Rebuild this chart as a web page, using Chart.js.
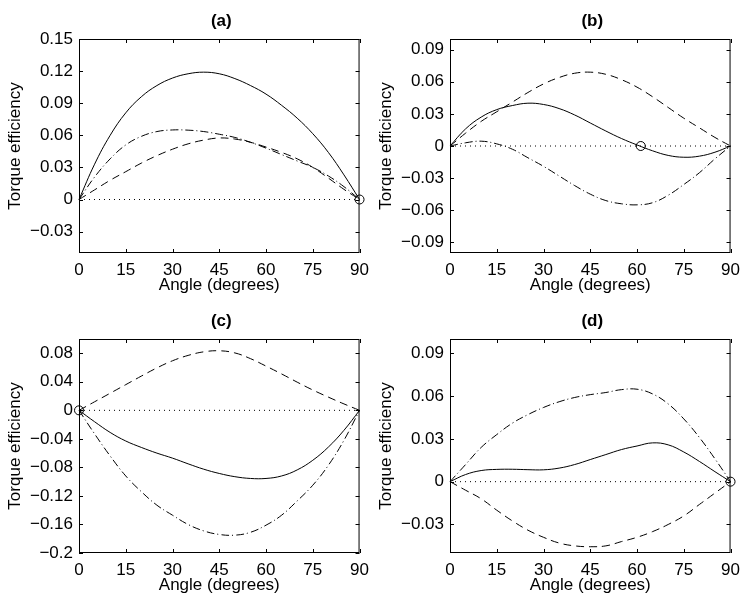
<!DOCTYPE html>
<html>
<head>
<meta charset="utf-8">
<script src="https://cdn.jsdelivr.net/npm/chart.js@4.4.1/dist/chart.umd.min.js"></script>
<style>
  html, body { margin: 0; padding: 0; background: #fff; }
  #wrap { position: relative; width: 747px; height: 602px; overflow: hidden; }
  canvas { position: absolute; }
</style>
</head>
<body>
<div id="wrap">
  <canvas id="chartA" width="376" height="302" style="left:0;top:0"></canvas>
  <canvas id="chartB" width="376" height="302" style="left:371px;top:0"></canvas>
  <canvas id="chartC" width="376" height="302" style="left:0;top:300px"></canvas>
  <canvas id="chartD" width="376" height="302" style="left:371px;top:300px"></canvas>
</div>
<script>
// angle samples (degrees) shared by every curve
const angles = [0, 5, 10, 15, 20, 25, 30, 35, 40, 45, 50, 55, 60, 65, 70, 75, 80, 85, 90];
const xTicks = [0, 15, 30, 45, 60, 75, 90];
const xTickLabels = ['0', '15', '30', '45', '60', '75', '90'];

// (a)
const aSolid   = [0, 0.033, 0.060, 0.081, 0.096, 0.1065, 0.1135, 0.1175, 0.119, 0.1175, 0.113, 0.1065, 0.0985, 0.088, 0.076, 0.0615, 0.044, 0.023, 0];
const aDashed  = [0, 0.009, 0.018, 0.026, 0.034, 0.041, 0.047, 0.052, 0.0555, 0.0575, 0.0565, 0.0535, 0.049, 0.044, 0.038, 0.030, 0.020, 0.0095, 0];
const aDashDot = [0, 0.021, 0.038, 0.051, 0.059, 0.0635, 0.065, 0.0648, 0.0635, 0.061, 0.058, 0.0535, 0.048, 0.042, 0.036, 0.030, 0.022, 0.012, 0];
const aYTicks = [-0.03, 0, 0.03, 0.06, 0.09, 0.12, 0.15];
const aYTickLabels = ['\u22120.03', '0', '0.03', '0.06', '0.09', '0.12', '0.15'];

// (b)
const bSolid   = [0, 0.016, 0.027, 0.034, 0.0378, 0.040, 0.0388, 0.035, 0.029, 0.0215, 0.014, 0.007, 0.001, -0.0045, -0.0088, -0.0105, -0.0095, -0.0058, 0];
const bDashed  = [0, 0.012, 0.023, 0.032, 0.041, 0.050, 0.058, 0.064, 0.068, 0.069, 0.067, 0.062, 0.055, 0.046, 0.036, 0.026, 0.017, 0.008, 0];
const bDashDot = [0, 0.003, 0.0045, 0.002, -0.003, -0.011, -0.019, -0.028, -0.037, -0.045, -0.051, -0.054, -0.055, -0.053, -0.046, -0.036, -0.025, -0.012, 0];
const bYTicks = [-0.09, -0.06, -0.03, 0, 0.03, 0.06, 0.09];
const bYTickLabels = ['\u22120.09', '\u22120.06', '\u22120.03', '0', '0.03', '0.06', '0.09'];

// (c)
const cSolid   = [0, -0.016, -0.031, -0.043, -0.052, -0.060, -0.067, -0.075, -0.0825, -0.0885, -0.093, -0.0955, -0.0955, -0.092, -0.0835, -0.070, -0.0515, -0.028, 0];
const cDashed  = [0, 0.012, 0.024, 0.036, 0.048, 0.0595, 0.0695, 0.077, 0.082, 0.0835, 0.0805, 0.0725, 0.062, 0.051, 0.0395, 0.0285, 0.0185, 0.009, 0];
const cDashDot = [0, -0.033, -0.064, -0.092, -0.114, -0.133, -0.147, -0.160, -0.169, -0.174, -0.175, -0.171, -0.161, -0.147, -0.127, -0.105, -0.077, -0.042, 0];
const cYTicks = [-0.2, -0.16, -0.12, -0.08, -0.04, 0, 0.04, 0.08];
const cYTickLabels = ['\u22120.2', '\u22120.16', '\u22120.12', '\u22120.08', '\u22120.04', '0', '0.04', '0.08'];

// (d)
const dSolid   = [0, 0.005, 0.0078, 0.0086, 0.0087, 0.0084, 0.0083, 0.0095, 0.012, 0.0155, 0.019, 0.0225, 0.025, 0.0272, 0.0258, 0.0208, 0.0142, 0.007, 0];
const dDashed  = [0, -0.006, -0.012, -0.020, -0.0275, -0.034, -0.039, -0.043, -0.045, -0.0456, -0.045, -0.042, -0.039, -0.035, -0.030, -0.024, -0.016, -0.008, 0];
const dDashDot = [0, 0.012, 0.024, 0.033, 0.041, 0.047, 0.052, 0.056, 0.059, 0.061, 0.0625, 0.0645, 0.0648, 0.0615, 0.0545, 0.044, 0.031, 0.016, 0];
const dYTicks = [-0.03, 0, 0.03, 0.06, 0.09];
const dYTickLabels = ['\u22120.03', '0', '0.03', '0.06', '0.09'];

// circle marker on the zero line, one per panel (a, b, c, d)
const markerAngles = [90, 61.2, 0, 90];

Chart.defaults.font.family = '"Liberation Sans", Arial, Helvetica, sans-serif';
Chart.defaults.font.size = 17;
Chart.defaults.color = '#000';

// box, inward tick marks and bold panel title (MATLAB look)
const framePlugin = {
    id: 'frame',
    afterDatasetsDraw(chart, args, opts) {
        const { ctx, chartArea: a, scales: { x, y } } = chart;
        const tl = 4;
        ctx.save();
        ctx.strokeStyle = '#000';
        ctx.lineWidth = 1;
        ctx.beginPath();
        x.ticks.forEach(t => {
            const px = Math.round(x.getPixelForValue(t.value)) + 0.5;
            ctx.moveTo(px, a.bottom); ctx.lineTo(px, a.bottom - tl);
            ctx.moveTo(px, a.top); ctx.lineTo(px, a.top + tl);
        });
        y.ticks.forEach(t => {
            const py = Math.round(y.getPixelForValue(t.value)) + 0.5;
            ctx.moveTo(a.left, py); ctx.lineTo(a.left + tl, py);
            ctx.moveTo(a.right, py); ctx.lineTo(a.right - tl, py);
        });
        ctx.stroke();
        ctx.strokeRect(a.left + 0.5, a.top + 0.5, a.right - a.left - 1, a.bottom - a.top - 1);

        ctx.font = 'bold 17px "Liberation Sans", Arial, sans-serif';
        ctx.fillStyle = '#000';
        ctx.textAlign = 'center';
        ctx.textBaseline = 'middle';
        ctx.fillText(opts.text, (a.left + a.right) / 2 + 2, 21);
        ctx.restore();
    }
};

function pts(ys) {
    return ys.map((v, i) => ({ x: angles[i], y: v }));
}

function makePanel(id, title, solid, dashed, dashDot, yMin, yMax, yTicks, yLabels, markerX) {
    const common = { borderColor: '#000', borderWidth: 1, pointRadius: 0, tension: 0.4, clip: false };
    new Chart(document.getElementById(id), {
        type: 'line',
        data: {
            datasets: [
                { ...common, data: pts(solid) },
                { ...common, data: pts(dashed), borderDash: [8, 5] },
                { ...common, data: pts(dashDot), borderDash: [8, 3, 1, 3] },
                { borderColor: '#000', borderWidth: 1, pointRadius: 0, borderDash: [1, 4],
                  data: [{ x: 0, y: 0 }, { x: 90, y: 0 }], clip: false },
                { borderColor: '#000', backgroundColor: 'rgba(0,0,0,0)', borderWidth: 1, pointRadius: 4.5,
                  pointStyle: 'circle', showLine: false, data: [{ x: markerX, y: 0 }], clip: false }
            ]
        },
        options: {
            responsive: false,
            animation: false,
            layout: { padding: { top: 39, right: 16, left: 0, bottom: 0 } },
            plugins: { legend: { display: false }, tooltip: { enabled: false }, frame: { text: title } },
            scales: {
                x: {
                    type: 'linear', min: 0, max: 90,
                    afterBuildTicks: s => { s.ticks = xTicks.map(v => ({ value: v })); },
                    afterFit: s => { s.height = 49; },
                    grid: { display: false, drawTicks: false },
                    border: { display: false },
                    ticks: { autoSkip: false, maxRotation: 0, padding: 7, callback: (v, i) => xTickLabels[i] },
                    title: { display: true, text: 'Angle (degrees)', padding: { top: 0, bottom: 6 } }
                },
                y: {
                    type: 'linear', min: yMin, max: yMax,
                    afterBuildTicks: s => { s.ticks = yTicks.map(v => ({ value: v })); },
                    afterFit: s => { s.width = 79; },
                    grid: { display: false, drawTicks: false },
                    border: { display: false },
                    ticks: { autoSkip: false, padding: 6, callback: (v, i) => yLabels[i] },
                    title: { display: true, text: 'Torque efficiency', padding: { top: 5, bottom: 0 } }
                }
            }
        },
        plugins: [framePlugin]
    });
}

makePanel('chartA', '(a)', aSolid, aDashed, aDashDot, -0.05, 0.15, aYTicks, aYTickLabels, markerAngles[0]);
makePanel('chartB', '(b)', bSolid, bDashed, bDashDot, -0.1, 0.1, bYTicks, bYTickLabels, markerAngles[1]);
makePanel('chartC', '(c)', cSolid, cDashed, cDashDot, -0.2, 0.1, cYTicks, cYTickLabels, markerAngles[2]);
makePanel('chartD', '(d)', dSolid, dDashed, dDashDot, -0.05, 0.1, dYTicks, dYTickLabels, markerAngles[3]);
</script>
</body>
</html>
